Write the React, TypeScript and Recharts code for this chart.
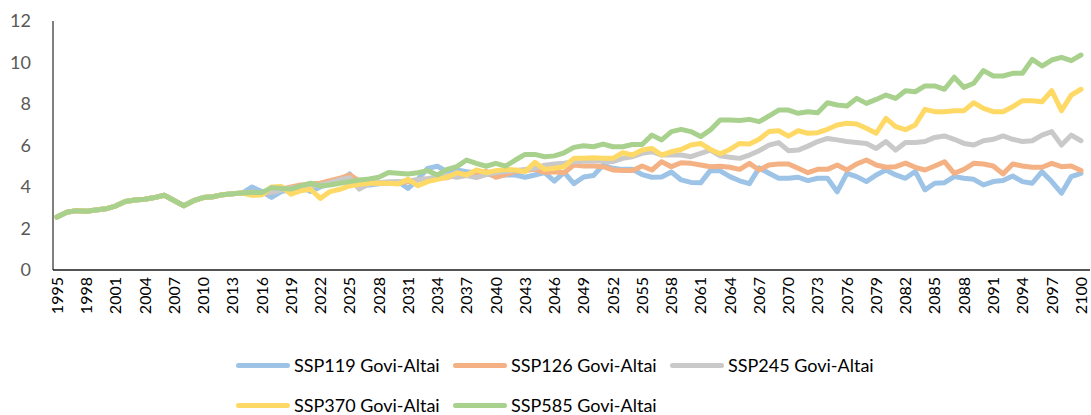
import React from 'react';
import { LineChart, Line, XAxis, YAxis } from 'recharts';

const FIRST_YEAR = 1995;
const LAST_YEAR = 2100;
const years = Array.from({ length: LAST_YEAR - FIRST_YEAR + 1 }, (_, i) => String(FIRST_YEAR + i));

// 1995-2014 is shared by every scenario
const historical = [2.55, 2.78, 2.86, 2.83, 2.89, 2.95, 3.08, 3.3, 3.37, 3.41, 3.49, 3.6, 3.35, 3.1, 3.34, 3.49, 3.53, 3.63, 3.68, 3.71];

// 2015-2100
const ssp119 = [
    4.0, 3.78, 3.5, 3.78, 3.89, 4.0, 3.78, 4.0, 4.16, 4.26,
    4.63, 4.1, 4.1, 4.16, 4.2, 4.26, 3.93, 4.37, 4.9, 5.0,
    4.74, 4.82, 4.74, 4.69, 4.63, 4.53, 4.58, 4.58, 4.47, 4.58,
    4.69, 4.28, 4.7, 4.16, 4.48, 4.55, 5.06, 4.9, 4.85, 4.85,
    4.6, 4.47, 4.48, 4.72, 4.34, 4.22, 4.2, 4.8, 4.78, 4.5,
    4.3, 4.16, 4.92, 4.66, 4.42, 4.42, 4.47, 4.31, 4.42, 4.42,
    3.77, 4.66, 4.5, 4.26, 4.58, 4.82, 4.58, 4.42, 4.75, 3.86,
    4.18, 4.21, 4.5, 4.42, 4.37, 4.1, 4.26, 4.31, 4.53, 4.26,
    4.18, 4.74, 4.26, 3.7, 4.5, 4.66,
];

const ssp126 = [
    3.75, 3.7, 3.74, 3.89, 4.0, 4.1, 4.15, 4.18, 4.3, 4.42,
    4.58, 4.3, 4.26, 4.18, 4.2, 4.2, 4.25, 4.35, 4.38, 4.45,
    4.45, 4.6, 4.6, 4.6, 4.75, 4.47, 4.6, 4.75, 4.8, 4.85,
    4.7, 4.74, 4.69, 5.06, 5.01, 5.01, 4.98, 4.82, 4.79, 4.79,
    5.01, 4.82, 5.22, 4.98, 5.17, 5.14, 5.06, 4.98, 5.0, 4.95,
    4.85, 5.14, 4.82, 5.06, 5.11, 5.11, 4.9, 4.69, 4.85, 4.85,
    5.06, 4.82, 5.11, 5.3, 5.06, 4.95, 4.98, 5.15, 4.95, 4.82,
    5.01, 5.22, 4.66, 4.85, 5.14, 5.11, 5.01, 4.63, 5.11, 5.01,
    4.95, 4.95, 5.14, 4.98, 5.01, 4.79,
];

const ssp245 = [
    3.75, 3.7, 3.75, 3.85, 3.95, 4.0, 4.05, 4.1, 4.2, 4.35,
    4.45, 3.9, 4.15, 4.2, 4.25, 4.25, 4.3, 4.35, 4.4, 4.5,
    4.55, 4.47, 4.55, 4.45, 4.6, 4.7, 4.75, 4.8, 4.85, 4.9,
    5.05, 5.11, 5.15, 5.22, 5.25, 5.25, 5.25, 5.22, 5.38, 5.46,
    5.62, 5.7, 5.54, 5.54, 5.54, 5.46, 5.62, 5.78, 5.5, 5.43,
    5.38, 5.54, 5.75, 6.02, 6.14, 5.75, 5.78, 5.97, 6.19, 6.34,
    6.27, 6.19, 6.14, 6.1, 5.86, 6.19, 5.78, 6.14, 6.14, 6.19,
    6.39, 6.46, 6.3, 6.1, 6.02, 6.23, 6.3, 6.46, 6.3, 6.19,
    6.23, 6.5, 6.67, 6.02, 6.5, 6.23,
];

const ssp370 = [
    3.6, 3.62, 4.0, 4.03, 3.65, 3.82, 3.89, 3.45, 3.78, 3.89,
    4.05, 4.13, 4.18, 4.18, 4.18, 4.15, 4.37, 4.06, 4.26, 4.37,
    4.47, 4.69, 4.58, 4.82, 4.69, 4.79, 4.85, 4.82, 4.74, 5.19,
    4.85, 4.9, 4.98, 5.38, 5.38, 5.41, 5.38, 5.38, 5.65, 5.54,
    5.78, 5.86, 5.54, 5.7, 5.81, 6.02, 6.1, 5.81, 5.6, 5.81,
    6.1, 6.07, 6.3, 6.67, 6.71, 6.45, 6.71, 6.59, 6.62, 6.78,
    6.99, 7.07, 7.04, 6.83, 6.59, 7.31, 6.91, 6.76, 6.99, 7.74,
    7.63, 7.63, 7.68, 7.68, 8.06, 7.79, 7.63, 7.63, 7.87, 8.16,
    8.16, 8.11, 8.64, 7.68, 8.43, 8.71,
];

const ssp585 = [
    3.74, 3.73, 3.97, 3.93, 3.9, 4.05, 4.18, 4.05, 4.1, 4.18,
    4.26, 4.34, 4.39, 4.47, 4.7, 4.66, 4.63, 4.69, 4.79, 4.58,
    4.85, 4.98, 5.3, 5.14, 5.0, 5.14, 5.01, 5.3, 5.57, 5.57,
    5.46, 5.5, 5.65, 5.91, 5.99, 5.94, 6.07, 5.94, 5.94, 6.05,
    6.05, 6.5, 6.27, 6.67, 6.78, 6.67, 6.43, 6.75, 7.23, 7.23,
    7.2, 7.26, 7.15, 7.42, 7.71, 7.71, 7.55, 7.63, 7.58, 8.06,
    7.95, 7.9, 8.27, 8.03, 8.22, 8.43, 8.27, 8.64, 8.59, 8.87,
    8.87, 8.71, 9.29, 8.8, 9.0, 9.61, 9.35, 9.35, 9.48, 9.48,
    10.15, 9.83, 10.12, 10.25, 10.09, 10.36,
];

const yTicks = [0, 2, 4, 6, 8, 10, 12];

const SERIES = [
    { key: 'ssp119', name: 'SSP119 Govi-Altai', color: '#9DC3E6', values: ssp119 },
    { key: 'ssp126', name: 'SSP126 Govi-Altai', color: '#F4B183', values: ssp126 },
    { key: 'ssp245', name: 'SSP245 Govi-Altai', color: '#C9C9C9', values: ssp245 },
    { key: 'ssp370', name: 'SSP370 Govi-Altai', color: '#FFD966', values: ssp370 },
    { key: 'ssp585', name: 'SSP585 Govi-Altai', color: '#A9D18E', values: ssp585 },
];

const chartData = years.map((year, i) => {
    const row: Record<string, string | number> = { year };
    SERIES.forEach((s) => {
        row[s.key] = i < historical.length ? historical[i] : s.values[i - historical.length];
    });
    return row;
});

const FONT = 'Lato, "Open Sans", sans-serif';

const YearTick = (props: any) => {
    const { x, y, payload } = props;
    return (
        <g transform={`translate(${x},${y})`}>
            <text
                transform="rotate(-90)"
                x={-7}
                y={0}
                dy="0.36em"
                textAnchor="end"
                fill="#000"
                fontSize={16}
                fontFamily={FONT}
            >
                {payload.value}
            </text>
        </g>
    );
};

const ValueTick = (props: any) => {
    const { x, y, payload } = props;
    return (
        <text x={x - 22} y={y} dy="0.36em" textAnchor="end" fill="#595959" fontSize={18} fontFamily={FONT}>
            {payload.value}
        </text>
    );
};

const LegendItem = ({ name, color }: { name: string; color: string }) => (
    <div style={{ display: 'flex', alignItems: 'center', width: 217 }}>
        <div style={{ width: 54, height: 5, borderRadius: 3, backgroundColor: color, marginRight: 4 }} />
        <span style={{ fontSize: 18, color: '#000', fontFamily: FONT, whiteSpace: 'nowrap' }}>{name}</span>
    </div>
);

const App: React.FC = () => {
    return (
        <div style={{ position: 'absolute', left: 0, top: 0, width: 1091, height: 415, background: '#fff' }}>
            <LineChart
                width={1091}
                height={340}
                data={chartData}
                margin={{ top: 21, right: 1, left: 0, bottom: 0 }}
            >
                <XAxis
                    dataKey="year"
                    interval={2}
                    height={70}
                    padding={{ left: 4, right: 9 }}
                    tickSize={0}
                    tickMargin={0}
                    tickLine={false}
                    axisLine={{ stroke: '#1a1a1a', strokeWidth: 1.5 }}
                    tick={<YearTick />}
                />
                <YAxis
                    width={53}
                    domain={[0, 12]}
                    ticks={yTicks}
                    tickSize={0}
                    tickMargin={0}
                    tickLine={false}
                    axisLine={{ stroke: '#000', strokeWidth: 1 }}
                    tick={<ValueTick />}
                />
                {SERIES.map((s) => (
                    <Line
                        key={s.key}
                        type="linear"
                        dataKey={s.key}
                        name={s.name}
                        stroke={s.color}
                        strokeWidth={5}
                        strokeLinejoin="round"
                        strokeLinecap="round"
                        dot={false}
                        activeDot={false}
                        isAnimationActive={false}
                    />
                ))}
            </LineChart>
            <div style={{ position: 'absolute', left: 236, top: 353, width: 700 }}>
                <div style={{ display: 'flex', height: 24 }}>
                    {SERIES.slice(0, 3).map((s) => <LegendItem key={s.key} name={s.name} color={s.color} />)}
                </div>
                <div style={{ display: 'flex', height: 24, marginTop: 16 }}>
                    {SERIES.slice(3).map((s) => <LegendItem key={s.key} name={s.name} color={s.color} />)}
                </div>
            </div>
        </div>
    );
};

export default App;
